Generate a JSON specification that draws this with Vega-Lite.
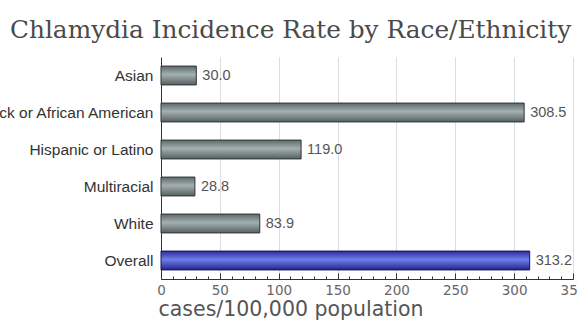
{
  "$schema": "https://vega.github.io/schema/vega-lite/v6.json",
  "autosize": "none",
  "width": 412,
  "height": 222,
  "padding": {"left": 161, "top": 57, "right": 5, "bottom": 41},
  "background": "white",
  "title": {
    "text": "Chlamydia Incidence Rate by Race/Ethnicity",
    "font": "DejaVu Serif",
    "fontSize": 24.8,
    "fontWeight": "normal",
    "color": "#4a4a4a",
    "anchor": "start",
    "frame": "group",
    "baseline": "alphabetic",
    "dx": -151,
    "dy": 28,
    "offset": 22
  },
  "data": {
    "values": [
      {"group": "Asian", "rate": 30.0},
      {"group": "Black or African American", "rate": 308.5},
      {"group": "Hispanic or Latino", "rate": 119.0},
      {"group": "Multiracial", "rate": 28.8},
      {"group": "White", "rate": 83.9},
      {"group": "Overall", "rate": 313.2}
    ]
  },
  "encoding": {
    "y": {
      "field": "group",
      "type": "nominal",
      "sort": null,
      "scale": {"paddingInner": 0.49, "paddingOuter": 0.245},
      "axis": {
        "title": null,
        "ticks": false,
        "domainColor": "#333333",
        "labelFont": "Liberation Sans",
        "labelFontSize": 15.5,
        "labelColor": "#333333",
        "labelPadding": 8,
        "labelLimit": 0
      }
    },
    "x": {
      "field": "rate",
      "type": "quantitative",
      "scale": {"domain": [0, 350], "nice": false},
      "axis": {
        "title": "cases/100,000 population",
        "titleFont": "DejaVu Sans",
        "titleFontSize": 20.5,
        "titleFontWeight": "normal",
        "titleColor": "#555555",
        "titleAnchor": "start",
        "titleAlign": "left",
        "titleBaseline": "alphabetic",
        "titleX": -3,
        "titleY": 36,
        "values": [0,10,20,30,40,50,60,70,80,90,100,110,120,130,140,150,160,170,180,190,200,210,220,230,240,250,260,270,280,290,300,310,320,330,340,350],
        "labelExpr": "datum.value % 50 === 0 ? datum.label : ''",
        "labelFont": "DejaVu Sans",
        "labelFontSize": 13.5,
        "labelColor": "#666666",
        "labelPadding": 10,
        "labelFlush": false,
        "labelOverlap": false,
        "domainColor": "#333333",
        "tickColor": "#333333",
        "tickSize": {"condition": {"test": "datum.value % 50 === 0", "value": -6}, "value": -3},
        "grid": true,
        "gridColor": "#dddddd",
        "gridOpacity": {"condition": {"test": "datum.value % 50 === 0 && datum.value > 0", "value": 1}, "value": 0}
      }
    }
  },
  "layer": [
    {
      "transform": [{"filter": "datum.group !== 'Overall'"}],
      "mark": {
        "type": "bar",
        "stroke": "#2e3535",
        "strokeWidth": 1,
        "fill": {
          "gradient": "linear", "x1": 0, "y1": 0, "x2": 0, "y2": 1,
          "stops": [
            {"offset": 0, "color": "#5d6a6a"},
            {"offset": 0.45, "color": "#a4b0b0"},
            {"offset": 1, "color": "#556161"}
          ]
        }
      }
    },
    {
      "transform": [{"filter": "datum.group === 'Overall'"}],
      "mark": {
        "type": "bar",
        "stroke": "#15155a",
        "strokeWidth": 1,
        "fill": {
          "gradient": "linear", "x1": 0, "y1": 0, "x2": 0, "y2": 1,
          "stops": [
            {"offset": 0, "color": "#2a2aa0"},
            {"offset": 0.45, "color": "#6f7ee6"},
            {"offset": 1, "color": "#23238f"}
          ]
        }
      }
    },
    {
      "mark": {
        "type": "text",
        "align": "left",
        "baseline": "middle",
        "dx": 6,
        "font": "Liberation Sans",
        "fontSize": 14.5,
        "color": "#555555"
      },
      "encoding": {
        "text": {"field": "rate", "type": "quantitative", "format": ".1f"}
      }
    }
  ],
  "config": {"view": {"stroke": null}}
}
